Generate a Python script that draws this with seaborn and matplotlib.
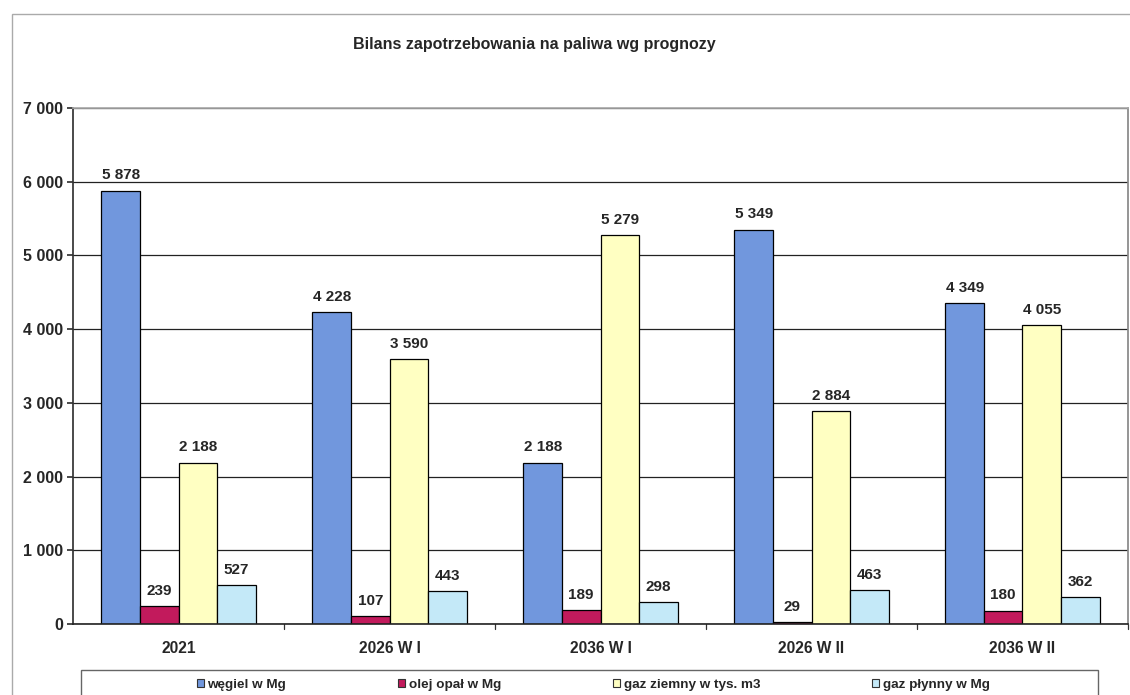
import matplotlib

matplotlib.use("Agg")

import matplotlib.pyplot as plt  # noqa: E402
import pandas as pd  # noqa: E402
import seaborn as sns  # noqa: E402
from matplotlib.patches import Rectangle  # noqa: E402
from matplotlib.ticker import FuncFormatter, MultipleLocator  # noqa: E402

# data
categories = ["2021", "2026 W I", "2036 W I", "2026 W II", "2036 W II"]
series = ["węgiel w Mg", "olej opał w Mg", "gaz ziemny w tys. m3", "gaz płynny w Mg"]
wegiel = [5878, 4228, 2188, 5349, 4349]
olej = [239, 107, 189, 29, 180]
gaz_ziemny = [2188, 3590, 5279, 2884, 4055]
gaz_plynny = [527, 443, 298, 463, 362]

colors = ["#7197dd", "#c21a5c", "#ffffc2", "#c4e9f8"]

rows = []
for name, vals in zip(series, [wegiel, olej, gaz_ziemny, gaz_plynny]):
    for cat, v in zip(categories, vals):
        rows.append({"okres": cat, "paliwo": name, "wartosc": v})
df = pd.DataFrame(rows)

W, H = 1130, 695


def spaced(v, _pos=None):
    return f"{int(round(v)):,}".replace(",", " ")


sns.set_theme(style="white")
plt.rcParams["font.family"] = ["Liberation Sans", "DejaVu Sans"]
plt.rcParams["font.weight"] = "bold"

fig = plt.figure(figsize=(W / 100, H / 100), dpi=100)
ax = fig.add_axes([73 / W, 1 - 624 / H, 1055 / W, 516 / H])

sns.barplot(
    data=df,
    x="okres",
    y="wartosc",
    hue="paliwo",
    order=categories,
    hue_order=series,
    palette=colors,
    width=0.73,
    edgecolor="black",
    linewidth=0.9,
    saturation=1,
    ax=ax,
)

for cont in ax.containers:
    ax.bar_label(cont, labels=[spaced(b.get_height()) for b in cont],
                 padding=6, fontsize=11, fontweight="bold")

ax.set_ylim(0, 7000)
ax.set_xlim(-0.5, len(categories) - 0.5)
ax.yaxis.set_major_locator(MultipleLocator(1000))
ax.yaxis.set_major_formatter(FuncFormatter(spaced))
ax.grid(axis="y", color="#222222", linewidth=0.9)
ax.yaxis.get_gridlines()[-1].set_color("#aaaaaa")
ax.set_axisbelow(True)
ax.set_xlabel("")
ax.set_ylabel("")
ax.tick_params(axis="y", labelsize=11.5, left=True, length=4, color="#333333", pad=3)
ax.tick_params(axis="x", labelsize=11.2, bottom=False, pad=6)
for lab in ax.get_xticklabels() + ax.get_yticklabels():
    lab.set_fontweight("bold")

# tick marks between the groups
for b in range(1, len(categories) + 1):
    ax.plot([b - 0.5, b - 0.5], [0, -70], color="#333333", lw=0.9, clip_on=False)

ax.spines["top"].set_color("#aaaaaa")
ax.spines["right"].set_color("#888888")
ax.spines["left"].set_color("#333333")
ax.spines["bottom"].set_color("#222222")
ax.spines["bottom"].set_linewidth(1.2)

fig.text(534 / W, 1 - 45 / H, "Bilans zapotrzebowania na paliwa wg prognozy",
         ha="center", va="center", fontsize=11.5, fontweight="bold")

ax.legend_.remove()
handles = [Rectangle((0, 0), 1, 1, facecolor=c, edgecolor="#333333", lw=0.8)
           for c in colors]
leg = fig.legend(handles, series, loc="center",
                 bbox_to_anchor=(593 / W, 1 - 685 / H),
                 ncol=4, fontsize=9.7, frameon=False,
                 handlelength=0.55, handleheight=0.55,
                 handletextpad=0.25, columnspacing=8.3)
for t in leg.get_texts():
    t.set_fontweight("bold")

# legend box and outer chart frame
fig.patches.append(Rectangle((81 / W, -0.02), 1017 / W, 1 - 670 / H + 0.02,
                             transform=fig.transFigure, fill=False,
                             edgecolor="#666666", lw=1.0))
fig.patches.append(Rectangle((12 / W, -0.02), 1.1, 1 - 14 / H + 0.02,
                             transform=fig.transFigure, fill=False,
                             edgecolor="#aaaaaa", lw=1.0))

fig.savefig("out.png", dpi=100)
